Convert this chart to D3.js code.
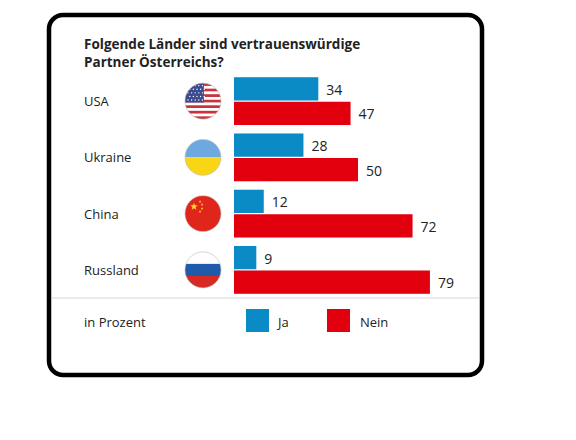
<!DOCTYPE html>
<html lang="de">
  <head>
    <meta charset="UTF-8" />
    <title>Vertrauenswürdige Partner</title>
    <script src="https://cdn.jsdelivr.net/npm/d3@7"></script>
    <style>
      body {
        margin: 0;
        padding: 0;
        background: #fff;
      }
      text {
        font-family: 'Open Sans', 'Noto Sans', sans-serif;
        fill: #222;
      }
    </style>
  </head>

  <body>
    <svg width="576" height="440"></svg>

    <script>
      // Daten
      var countries = ['USA', 'Ukraine', 'China', 'Russland']
      var flags = ['us', 'ua', 'cn', 'ru']
      var series = ['Ja', 'Nein']
      var ja = [34, 28, 12, 9]
      var nein = [47, 50, 72, 79]
      var colors = ['#0b8bc6', '#e2000f']

      var svg = d3.select('svg')

      // Rahmen
      svg
        .append('rect')
        .attr('x', 49)
        .attr('y', 15)
        .attr('width', 433)
        .attr('height', 360)
        .attr('rx', 14)
        .attr('fill', '#fff')
        .attr('stroke', '#000')
        .attr('stroke-width', 4.5)

      // Titel
      var title = svg
        .append('text')
        .attr('x', 84)
        .attr('y', 49)
        .attr('font-size', 13.5)
        .attr('font-weight', 'bold')
      title.append('tspan').attr('x', 84).text('Folgende Länder sind vertrauenswürdige')
      title.append('tspan').attr('x', 84).attr('dy', 18).text('Partner Österreichs?')

      var yScale = d3
        .scaleBand()
        .domain(countries)
        .range([73, 298])
        .paddingInner(0.15)
        .paddingOuter(0.075)

      var ySub = d3
        .scaleBand()
        .domain(series)
        .range([0, yScale.bandwidth()])
        .paddingInner(0.05)

      var xScale = d3.scaleLinear().domain([0, 100]).range([234, 482])

      var rows = countries.map((c, i) => ({
        country: c,
        flag: flags[i],
        values: [
          { key: 'Ja', value: ja[i] },
          { key: 'Nein', value: nein[i] },
        ],
      }))

      var gs = svg
        .selectAll('.row')
        .data(rows)
        .enter()
        .append('g')
        .attr('class', 'row')
        .attr('transform', (d) => `translate(0, ${yScale(d.country)})`)

      var mid = yScale.bandwidth() / 2

      gs.append('text')
        .attr('x', 84)
        .attr('y', mid + 5)
        .attr('font-size', 13)
        .text((d) => d.country)

      gs.selectAll('rect')
        .data((d) => d.values)
        .enter()
        .append('rect')
        .attr('x', xScale(0))
        .attr('y', (d) => ySub(d.key))
        .attr('width', (d) => xScale(d.value) - xScale(0))
        .attr('height', ySub.bandwidth())
        .attr('fill', (d, i) => colors[i])

      gs.selectAll('.val')
        .data((d) => d.values)
        .enter()
        .append('text')
        .attr('class', 'val')
        .attr('x', (d) => xScale(d.value) + 8)
        .attr('y', (d) => ySub(d.key) + ySub.bandwidth() / 2 + 6)
        .attr('font-size', 14)
        .text((d) => d.value)

      // Flaggen
      var defs = svg.append('defs')
      var r = 18
      var cx = 203

      function star(x, y, rr, rot) {
        var pts = []
        for (var k = 0; k < 10; k++) {
          var a = ((k * 36 + (rot || 0) - 90) * Math.PI) / 180
          var rad = k % 2 ? rr * 0.4 : rr
          pts.push([x + rad * Math.cos(a), y + rad * Math.sin(a)])
        }
        return 'M' + pts.join('L') + 'Z'
      }

      gs.each(function (d, i) {
        var id = 'clip' + i
        defs
          .append('clipPath')
          .attr('id', id)
          .append('circle')
          .attr('cx', cx)
          .attr('cy', mid)
          .attr('r', r)
        var f = d3.select(this).append('g').attr('clip-path', `url(#${id})`)
        var x0 = cx - r
        var y0 = mid - r
        if (d.flag === 'us') {
          for (var s = 0; s < 13; s++) {
            f.append('rect')
              .attr('x', x0)
              .attr('y', y0 + (s * 2 * r) / 13)
              .attr('width', 2 * r)
              .attr('height', (2 * r) / 13 + 0.3)
              .attr('fill', s % 2 ? '#fff' : '#c9333c')
          }
          f.append('rect')
            .attr('x', x0)
            .attr('y', y0)
            .attr('width', r * 1.05)
            .attr('height', ((2 * r) / 13) * 7)
            .attr('fill', '#3b4b8f')
          for (var a = 0; a < 5; a++) {
            for (var b = 0; b < 5; b++) {
              f.append('circle')
                .attr('cx', x0 + 3 + b * 3.6 + (a % 2) * 1.8)
                .attr('cy', y0 + 2.5 + a * 3.6)
                .attr('r', 0.7)
                .attr('fill', '#fff')
            }
          }
        } else if (d.flag === 'ua') {
          f.append('rect').attr('x', x0).attr('y', y0).attr('width', 2 * r).attr('height', r).attr('fill', '#6ea8e0')
          f.append('rect').attr('x', x0).attr('y', mid).attr('width', 2 * r).attr('height', r).attr('fill', '#f8d616')
        } else if (d.flag === 'cn') {
          f.append('rect').attr('x', x0).attr('y', y0).attr('width', 2 * r).attr('height', 2 * r).attr('fill', '#e0261b')
          f.append('path').attr('d', star(x0 + 9, y0 + 11, 4)).attr('fill', '#ffd92e')
          var small = [[15, 6], [17, 9], [17, 13], [15, 16]]
          small.forEach((p) => {
            f.append('path').attr('d', star(x0 + p[0], y0 + p[1], 1.4, 20)).attr('fill', '#ffd92e')
          })
        } else {
          var cols = ['#fff', '#1f5aab', '#d72a22']
          cols.forEach((c, k) => {
            f.append('rect')
              .attr('x', x0)
              .attr('y', y0 + (k * 2 * r) / 3)
              .attr('width', 2 * r)
              .attr('height', (2 * r) / 3 + 0.3)
              .attr('fill', c)
          })
        }
        d3.select(this)
          .append('circle')
          .attr('cx', cx)
          .attr('cy', mid)
          .attr('r', r)
          .attr('fill', 'none')
          .attr('stroke', '#bbb')
          .attr('stroke-width', 0.6)
      })

      // Trennlinie
      svg
        .append('line')
        .attr('x1', 52)
        .attr('x2', 479)
        .attr('y1', 298)
        .attr('y2', 298)
        .attr('stroke', '#d8d8d8')
        .attr('stroke-width', 1.2)

      // Legende
      svg
        .append('text')
        .attr('x', 84)
        .attr('y', 327)
        .attr('font-size', 13)
        .text('in Prozent')

      var legendX = [246, 327]
      var lg = svg
        .selectAll('.legend')
        .data(series)
        .enter()
        .append('g')
        .attr('class', 'legend')
        .attr('transform', (d, i) => `translate(${legendX[i]}, 309)`)
      lg.append('rect')
        .attr('width', 23)
        .attr('height', 23)
        .attr('fill', (d, i) => colors[i])
      lg.append('text')
        .attr('x', (d, i) => (i ? 33 : 32))
        .attr('y', 18)
        .attr('font-size', 13)
        .text((d) => d)
    </script>
  </body>
</html>
